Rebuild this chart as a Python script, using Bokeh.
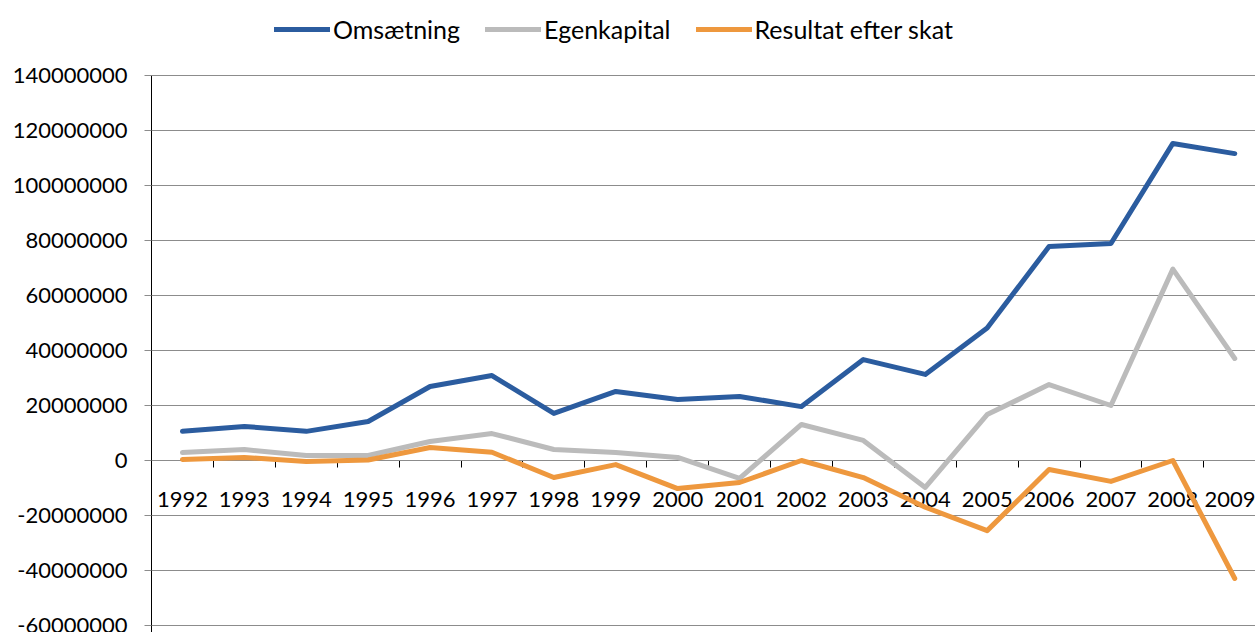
from bokeh.plotting import figure
from bokeh.models import (LinearAxis, FixedTicker, Range1d, Grid, Legend, LegendItem)
from bokeh.embed import file_html
from bokeh.resources import INLINE

years = [1992, 1993, 1994, 1995, 1996, 1997, 1998, 1999, 2000, 2001,
         2002, 2003, 2004, 2005, 2006, 2007, 2008, 2009]
omsaetning = [10.6e6, 12.4e6, 10.6e6, 14.2e6, 26.9e6, 30.9e6, 17.1e6, 25.1e6, 22.2e6, 23.3e6,
              19.6e6, 36.7e6, 31.3e6, 48.2e6, 77.8e6, 78.9e6, 115.3e6, 111.6e6]
egenkapital = [2.9e6, 4.0e6, 1.8e6, 1.8e6, 6.9e6, 9.8e6, 4.0e6, 2.9e6, 1.1e6, -6.5e6,
               13.1e6, 7.3e6, -9.8e6, 16.7e6, 27.6e6, 20.0e6, 69.6e6, 37.1e6]
resultat = [0.4e6, 1.1e6, -0.4e6, 0.2e6, 4.7e6, 3.0e6, -6.2e6, -1.5e6, -10.2e6, -8.0e6,
            0.0, -6.2e6, -17.0e6, -25.5e6, -3.3e6, -7.6e6, 0.0, -42.9e6]
series_names = ["Omsætning", "Egenkapital", "Resultat efter skat"]
y_ticks = [-60000000, -40000000, -20000000, 0, 20000000, 40000000, 60000000,
           80000000, 100000000, 120000000, 140000000]
y_tick_labels = [str(v) for v in y_ticks]
y_max = 140000000

colors = ["#2B5C9F", "#BBBBBB", "#EE983E"]
FONT = "Lato"

W, H = 1255, 632
top_gap = 75          # pixels from top of figure to the 140000000 gridline
left_border = 151
px_per_unit = 55.0 / 20e6
cat_w = 61.9
frame_h = H
frame_w = W - left_border
y_end = y_max + top_gap / px_per_unit
y_start = y_end - frame_h / px_per_unit

p = figure(width=W, height=H, output_backend="svg", toolbar_location=None,
           x_axis_type=None, y_axis_type=None,
           x_range=Range1d(years[0] - 0.5, years[0] - 0.5 + frame_w / cat_w),
           y_range=Range1d(y_start, y_end),
           min_border_left=left_border, min_border_top=0,
           min_border_right=0, min_border_bottom=0)
p.outline_line_color = None
p.background_fill_color = "white"
p.border_fill_color = "white"

yticker = FixedTicker(ticks=y_ticks)
yaxis = LinearAxis(ticker=yticker, bounds=(y_start, y_max))
yaxis.major_label_overrides = {v: s for v, s in zip(y_ticks, y_tick_labels)}
yaxis.axis_line_color = "black"
yaxis.axis_line_width = 1
yaxis.major_tick_out = 7
yaxis.major_tick_in = 0
yaxis.major_tick_line_color = "#8C8C8C"
yaxis.minor_tick_line_color = None
yaxis.major_label_standoff = 17
yaxis.major_label_text_font = FONT
yaxis.major_label_text_font_size = "22px"
yaxis.major_label_text_color = "black"
p.add_layout(yaxis, "left")

p.add_layout(Grid(dimension=1, ticker=yticker, grid_line_color="#8C8C8C", grid_line_width=1))

xticker = FixedTicker(ticks=years, minor_ticks=[y - 0.5 for y in years])
xaxis = LinearAxis(ticker=xticker, fixed_location=0)
xaxis.level = "underlay"
xaxis.axis_line_color = "black"
xaxis.axis_line_width = 1
xaxis.major_tick_line_color = None
xaxis.major_tick_out = 0
xaxis.major_tick_in = 0
xaxis.minor_tick_out = 7
xaxis.minor_tick_in = 0
xaxis.minor_tick_line_color = "black"
xaxis.major_label_standoff = 24
xaxis.major_label_text_font = FONT
xaxis.major_label_text_font_size = "22px"
xaxis.major_label_text_color = "black"
xaxis.major_label_overrides = {y: str(y) for y in years}
p.add_layout(xaxis, "below")

renderers = []
for vals, c in zip([omsaetning, egenkapital, resultat], colors):
    r = p.line(years, vals, line_width=5, line_color=c, line_join="round", line_cap="round")
    renderers.append(r)

legend = Legend(items=[LegendItem(label=n, renderers=[r]) for n, r in zip(series_names, renderers)],
                orientation="horizontal", location=(123, frame_h - 44),
                glyph_width=56, glyph_height=20, label_standoff=3, spacing=25,
                padding=0, margin=0, border_line_color=None, background_fill_alpha=0,
                label_text_font=FONT, label_text_font_size="25px", label_text_color="black")
p.add_layout(legend)

open("out.html", "w").write(file_html(p, INLINE))
